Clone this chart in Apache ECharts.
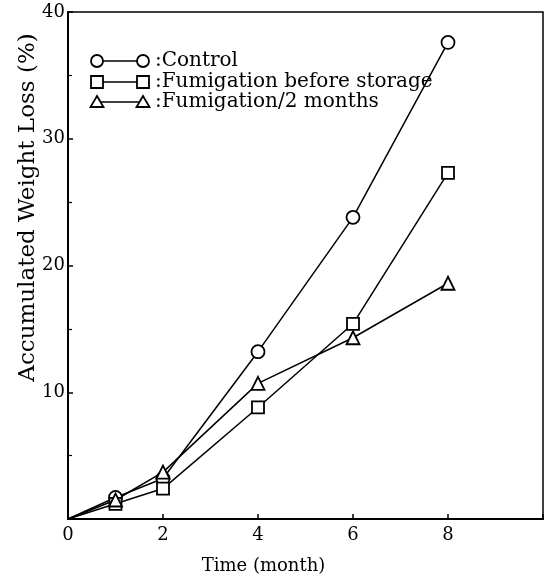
<!DOCTYPE html>
<html>
<head>
<meta charset="utf-8">
<script src="https://cdn.jsdelivr.net/npm/echarts@6/dist/echarts.min.js"></script>
<style>
  html, body { margin: 0; padding: 0; background: #fff; }
  #chart { width: 550px; height: 580px; }
</style>
</head>
<body>
<div id="chart"></div>
<script>
// months after start of storage
var months = [0, 1, 2, 4, 6, 8];
// accumulated weight loss (%)
var control = [0, 1.7, 3.2, 13.2, 23.8, 37.6];
var fumBefore = [0, 1.2, 2.4, 8.8, 15.4, 27.3];
var fum2Months = [0, 1.5, 3.7, 10.7, 14.3, 18.6];

var legendNames = [':Control', ':Fumigation before storage', ':Fumigation/2 months'];
var xTicks = [0, 2, 4, 6, 8];
var yTicks = [10, 20, 30, 40];

var FONT = 'DejaVu Serif';

function pairs(ys) {
    return months.map(function (m, i) {
        var item = {value: [m, ys[i]]};
        if (m === 0) item.symbol = 'none';
        return item;
    });
}

function makeSeries(name, ys, symbol, size) {
    return {
        type: 'line',
        name: name,
        data: pairs(ys),
        symbol: symbol,
        symbolSize: size,
        showAllSymbol: true,
        lineStyle: {color: '#000', width: 1.5},
        itemStyle: {color: '#fff', borderColor: '#000', borderWidth: 1.8},
        z: 3
    };
}

// legend key: symbol --- symbol, drawn by hand
function legendRow(y, shape, text) {
    var x1 = 97, x2 = 143;
    var els = [{
        type: 'line',
        shape: {x1: x1, y1: y, x2: x2, y2: y},
        style: {stroke: '#000', lineWidth: 1.5}
    }];
    [x1, x2].forEach(function (x) {
        var st = {fill: '#fff', stroke: '#000', lineWidth: 1.8};
        if (shape === 'circle') {
            els.push({type: 'circle', shape: {cx: x, cy: y, r: 6}, style: st, z: 2});
        } else if (shape === 'rect') {
            els.push({type: 'rect', shape: {x: x - 6, y: y - 6, width: 12, height: 12}, style: st, z: 2});
        } else {
            els.push({type: 'polygon', shape: {points: [[x, y - 6], [x + 6.5, y + 5], [x - 6.5, y + 5]]}, style: st, z: 2});
        }
    });
    els.push({
        type: 'text',
        x: 155, y: y,
        style: {text: text, font: '20px "' + FONT + '"', fill: '#000', verticalAlign: 'middle'}
    });
    return els;
}

var graphics = []
    .concat(legendRow(61, 'circle', legendNames[0]))
    .concat(legendRow(82, 'rect', legendNames[1]))
    .concat(legendRow(102, 'triangle', legendNames[2]));

var chart = echarts.init(document.getElementById('chart'));

var option = {
    backgroundColor: '#fff',
    animation: false,
    grid: {
        left: 68, right: 7, top: 12, bottom: 61,
        containLabel: false,
        outerBoundsMode: 'none',
        show: true, borderColor: '#000', borderWidth: 1.5
    },
    xAxis: {
        type: 'value',
        min: 0, max: 10, interval: 2,
        name: 'Time (month)',
        nameLocation: 'middle',
        nameGap: 38,
        nameMoveOverlap: false,
        nameTextStyle: {fontFamily: FONT, fontSize: 18, color: '#000', padding: [0, 84, 0, 0]},
        axisLine: {lineStyle: {color: '#000', width: 2}},
        axisTick: {inside: true, length: 5, lineStyle: {color: '#000', width: 1.5}},
        splitLine: {show: false},
        axisLabel: {
            fontFamily: FONT, fontSize: 18, color: '#000', margin: 7,
            formatter: function (v) { return xTicks.indexOf(v) >= 0 ? String(v) : ''; }
        }
    },
    yAxis: {
        type: 'value',
        min: 0, max: 40, interval: 10,
        name: 'Accumulated Weight Loss (%)',
        nameLocation: 'middle',
        nameGap: 28,
        nameMoveOverlap: false,
        nameTextStyle: {fontFamily: FONT, fontSize: 23, color: '#000', padding: [0, 0, 0, 116]},
        axisLine: {lineStyle: {color: '#000', width: 2}},
        axisTick: {inside: true, length: 5, lineStyle: {color: '#000', width: 1.5}},
        minorTick: {show: true, splitNumber: 2, length: 4, lineStyle: {color: '#000', width: 1.2}},
        splitLine: {show: false},
        axisLabel: {
            fontFamily: FONT, fontSize: 18, color: '#000', margin: 3,
            formatter: function (v) { return yTicks.indexOf(v) >= 0 ? String(v) : ''; }
        }
    },
    series: [
        makeSeries('Control', control, 'circle', 13),
        makeSeries('Fumigation before storage', fumBefore, 'rect', 12),
        makeSeries('Fumigation/2 months', fum2Months, 'triangle', 13)
    ],
    graphic: graphics
};

chart.setOption(option);
</script>
</body>
</html>
